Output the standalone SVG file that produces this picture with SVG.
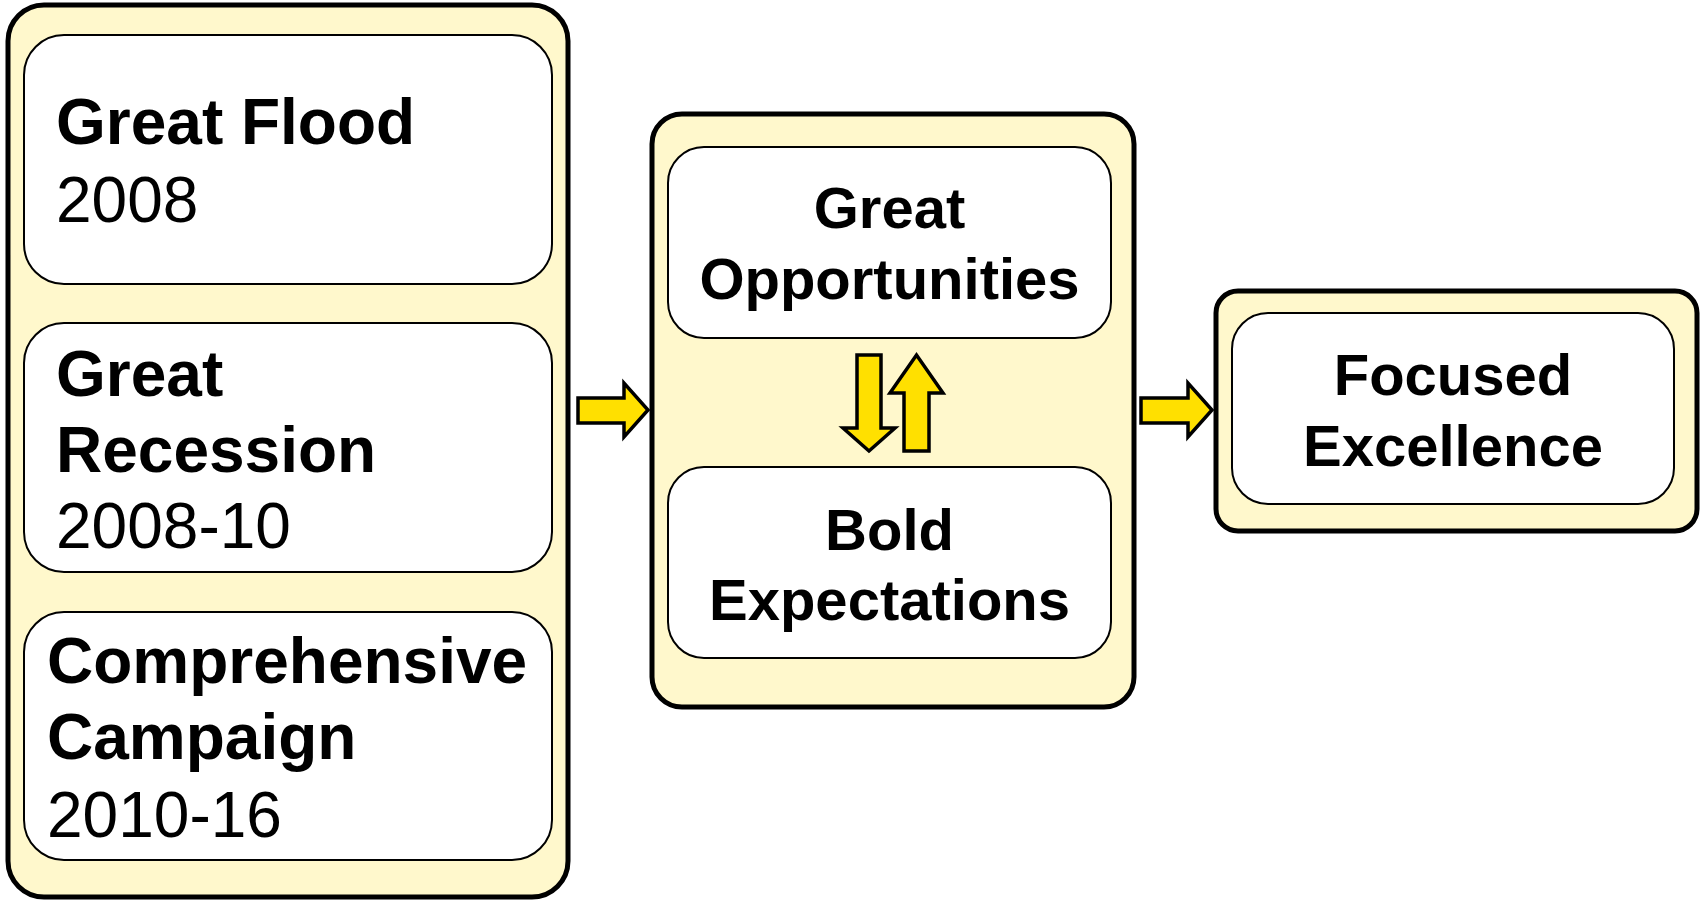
<svg xmlns="http://www.w3.org/2000/svg" width="1701" height="900" viewBox="0 0 1701 900">
<style>
.outer{fill:#FFF8CC;stroke:#000;stroke-width:5}
.inner{fill:#fff;stroke:#000;stroke-width:2}
.b{font-family:"Liberation Sans",Arial,sans-serif;font-weight:bold;fill:#000}
.r{font-family:"Liberation Sans",Arial,sans-serif;fill:#000}
.arrow{fill:#FFE000;stroke:#000;stroke-width:3.5;stroke-linejoin:miter}
</style>
<rect width="1701" height="900" fill="#fff"/>
<g id="left-group">
<rect class="outer" x="8" y="5" width="560" height="892" rx="36"/>
</g>
<g id="great-flood">
<rect class="inner" x="24" y="35" width="528" height="249" rx="40"/>
<text class="b" x="56" y="144" font-size="64">Great Flood</text>
<text class="r" x="56" y="222" font-size="64">2008</text>
</g>
<g id="great-recession">
<rect class="inner" x="24" y="323" width="528" height="249" rx="40"/>
<text class="b" x="56" y="396" font-size="64">Great</text>
<text class="b" x="56" y="472" font-size="64">Recession</text>
<text class="r" x="56" y="548" font-size="64">2008-10</text>
</g>
<g id="comprehensive-campaign">
<rect class="inner" x="24" y="612" width="528" height="248" rx="40"/>
<text class="b" x="47" y="683" font-size="64">Comprehensive</text>
<text class="b" x="47" y="759" font-size="64">Campaign</text>
<text class="r" x="47" y="837" font-size="64">2010-16</text>
</g>
<g id="middle-group">
<rect class="outer" x="652" y="114" width="482" height="593" rx="30"/>
</g>
<g id="great-opportunities">
<rect class="inner" x="668" y="147" width="443" height="191" rx="36"/>
<text class="b" x="889.5" y="228" font-size="58" text-anchor="middle">Great</text>
<text class="b" x="889.5" y="299" font-size="58" text-anchor="middle">Opportunities</text>
</g>
<g id="bold-expectations">
<rect class="inner" x="668" y="467" width="443" height="191" rx="36"/>
<text class="b" x="889.5" y="550" font-size="58" text-anchor="middle">Bold</text>
<text class="b" x="889.5" y="620" font-size="58" text-anchor="middle">Expectations</text>
</g>
<g id="right-group">
<rect class="outer" x="1216" y="291" width="481" height="240" rx="22"/>
</g>
<g id="focused-excellence">
<rect class="inner" x="1232" y="313" width="442" height="191" rx="36"/>
<text class="b" x="1453" y="395" font-size="58" text-anchor="middle">Focused</text>
<text class="b" x="1453" y="466" font-size="58" text-anchor="middle">Excellence</text>
</g>
<g id="connectors">
<polygon class="arrow" points="578,398 624,398 624,383 648,410 624,437 624,423 578,423"/>
<polygon class="arrow" points="1141,398 1188,398 1188,383 1212,410 1188,437 1188,423 1141,423"/>
<polygon class="arrow" points="857,355 881,355 881,428 895,428 869,451 843,428 857,428"/>
<polygon class="arrow" points="904,451 929,451 929,393 943,393 916.5,355 890,393 904,393"/>
</g>
</svg>
